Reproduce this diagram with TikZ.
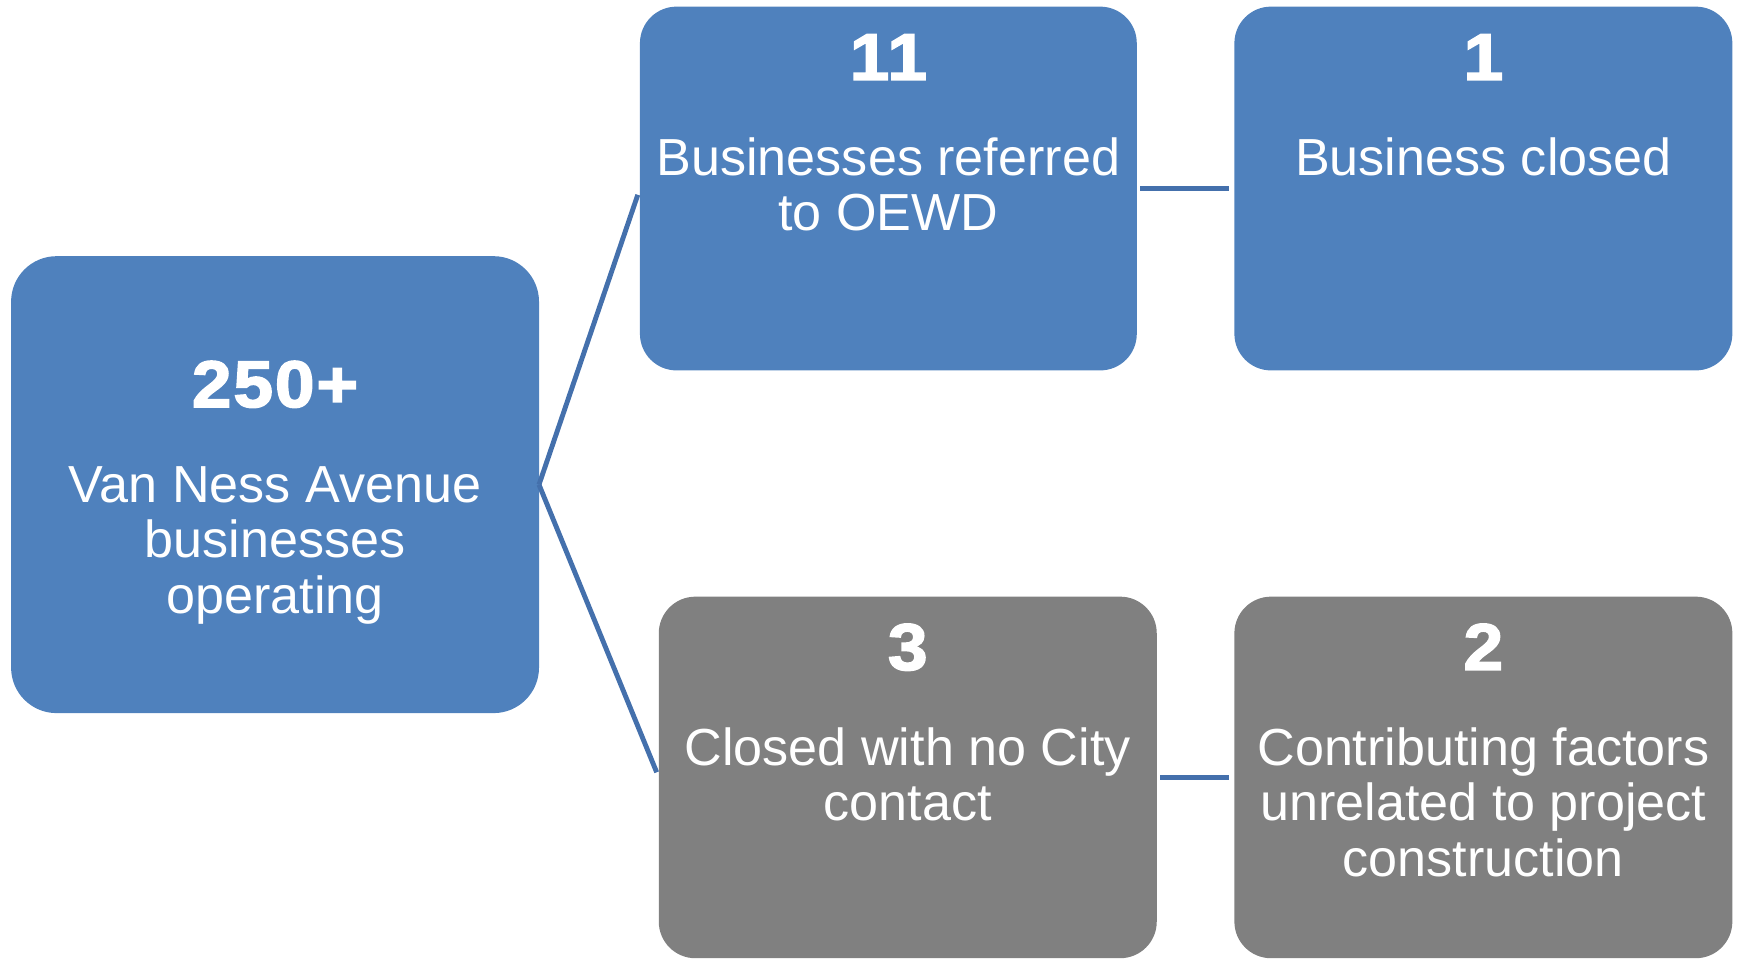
\documentclass[tikz,border=0pt]{standalone}
\usepackage{fontspec}
\setmainfont{Liberation Sans}
\newfontfamily\numfont{Liberation Sans}[FakeStretch=1.08,LetterSpace=3,BoldFeatures={FakeBold=2.5}]
\usetikzlibrary{positioning}
\usetikzlibrary{calc}
\definecolor{boxblue}{HTML}{4F81BD}
\definecolor{boxgrey}{HTML}{808080}
\definecolor{linkblue}{HTML}{4470AC}

\begin{document}
\begin{tikzpicture}[x=0.5pt, y=0.5pt, bluebox/.style={rectangle,fill=boxblue,inner sep=0pt,outer sep=0pt,minimum width=224.5pt,minimum height=164pt,rounded corners=16.5pt}, greybox/.style={bluebox,fill=boxgrey,minimum height=163pt}, numlab/.style={anchor=base,text=white,font=\numfont\bfseries\fontsize{29.7}{30}\selectfont}, txtlab/.style={anchor=base,text=white,align=center,font=\fontsize{23.5}{25}\selectfont}, link/.style={draw=linkblue,line width=2.2pt,shorten >=2.5pt}]
	\useasboundingbox (0,0) rectangle (1568,865);
	% left box (base of a label = its last line)
	\node[bluebox,minimum width=238pt,minimum height=206pt,rounded corners=20.5pt](ops) at (248,428){};
	\node[numlab](opsnum) at ($(ops.center)+(0,70)$){250+};
	\node[txtlab](opslab) at ($(ops.center)+(0,-116)$){Van Ness Avenue\\businesses\\operating};
	% top row
	\node[bluebox,minimum width=224pt](ref) at (801,695){};
	\node[numlab](refnum) at ($(ref.north)+(0,-66)$){11};
	\node[txtlab](reflab) at ($(ref.north)+(0,-202)$){Businesses referred\\to OEWD};
	\node[bluebox](clsd) at (1337.5,695){};
	\node[numlab](clsdnum) at ($(clsd.north)+(0,-66)$){1};
	\node[txtlab](clsdlab) at ($(clsd.north)+(0,-152)$){Business closed};
	% bottom row
	\node[greybox](nocon) at (818.5,164){};
	\node[numlab](noconnum) at ($(nocon.north)+(0,-66)$){3};
	\node[txtlab](noconlab) at ($(nocon.north)+(0,-202)$){Closed with no City\\contact};
	\node[greybox](unrel) at (1337.5,164){};
	\node[numlab](unrelnum) at ($(unrel.north)+(0,-66)$){2};
	\node[txtlab](unrellab) at ($(unrel.north)+(0,-252)$){Contributing factors\\unrelated to project\\construction};
	% links
	\draw[link,shorten >=3pt] (ops.east) -- (ref.west);
	\draw[link] (ops.east) -- (nocon.west);
	\draw[link,shorten <=1.5pt] (ref.east) -- (clsd.west);
	\draw[link,shorten <=1.5pt] (nocon.east) -- (unrel.west);
\end{tikzpicture}
\end{document}
